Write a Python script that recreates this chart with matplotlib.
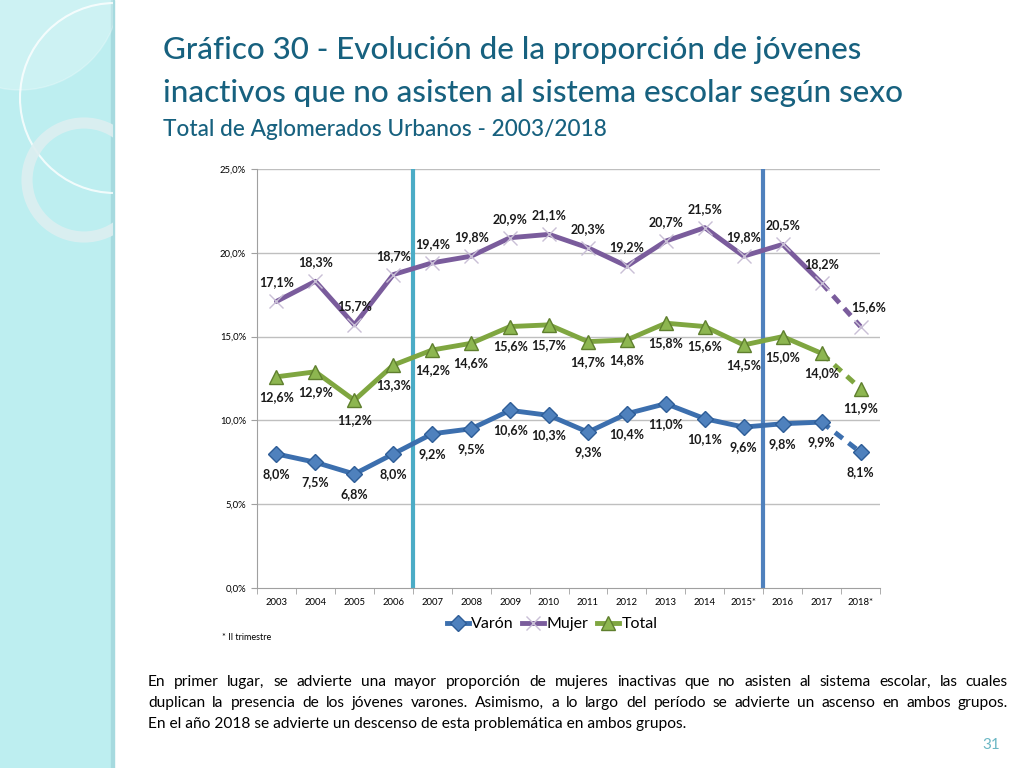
import matplotlib
matplotlib.use("Agg")
import matplotlib.pyplot as plt
import numpy as np
from matplotlib.patches import Rectangle, Circle
from matplotlib.lines import Line2D

# ---------------------------------------------------------------
# datos del grafico
# ---------------------------------------------------------------
anios = ["2003", "2004", "2005", "2006", "2007", "2008", "2009", "2010",
         "2011", "2012", "2013", "2014", "2015*", "2016", "2017", "2018*"]
varon = [8.0, 7.5, 6.8, 8.0, 9.2, 9.5, 10.6, 10.3, 9.3, 10.4, 11.0, 10.1, 9.6, 9.8, 9.9, 8.1]
mujer = [17.1, 18.3, 15.7, 18.7, 19.4, 19.8, 20.9, 21.1, 20.3, 19.2, 20.7, 21.5, 19.8, 20.5, 18.2, 15.6]
total = [12.6, 12.9, 11.2, 13.3, 14.2, 14.6, 15.6, 15.7, 14.7, 14.8, 15.8, 15.6, 14.5, 15.0, 14.0, 11.9]
y_ticks = [0, 5, 10, 15, 20, 25]

titulo1 = "Gráfico 30 - Evolución de la proporción de jóvenes"
titulo2 = "inactivos que no asisten al sistema escolar según sexo"
subtitulo = "Total de Aglomerados Urbanos - 2003/2018"
texto = ["En primer lugar, se advierte una mayor proporción de mujeres inactivas que no asisten al sistema escolar, las cuales",
         "duplican la presencia de los jóvenes varones.  Asimismo, a lo largo del período se advierte un ascenso en ambos grupos.",
         "En el año 2018 se advierte un descenso de esta problemática en ambos grupos."]

W, H = 1024, 768
fig = plt.figure(figsize=(W / 100, H / 100), dpi=100)
fig.patch.set_facecolor("white")

# panel decorativo de la izquierda
bg = fig.add_axes([0, 0, 1, 1], zorder=-5)
bg.set_xlim(0, W)
bg.set_ylim(H, 0)
bg.axis("off")
bg.add_patch(Rectangle((0, 0), 113, H, color="#BDEEF0", zorder=0))
bg.add_patch(Rectangle((111, 0), 3, H, color="#A6DADF", zorder=1))
clip = Rectangle((0, 0), 113, H, transform=bg.transData)
c1 = Circle((115, 98), 95, fill=False, ec="white", lw=1.5, alpha=0.8, zorder=2)
c2 = Circle((84, 180), 57, fill=False, ec="#DDEEF0", lw=8, alpha=0.9, zorder=2)
c3 = Circle((20, -10), 100, color="white", alpha=0.25, zorder=1)
for c in (c1, c2, c3):
    bg.add_patch(c)
    c.set_clip_path(clip)

col_tit = "#17617F"
fig.text(163 / W, 1 - 50 / H, titulo1, fontsize=22.6, color=col_tit, family="Lato", weight="medium", va="center")
fig.text(163 / W, 1 - 93 / H, titulo2, fontsize=22.6, color=col_tit, family="Lato", weight="medium", va="center")
fig.text(163 / W, 1 - 129 / H, subtitulo, fontsize=16.3, color=col_tit, family="Lato", weight="medium", va="center")

# ---------------------------------------------------------------
# grafico de lineas
# ---------------------------------------------------------------
ax = fig.add_axes([257 / W, 1 - 588 / H, (880 - 257) / W, (588 - 169) / H])
x = np.arange(len(anios))
ax.set_xlim(-0.5, len(anios) - 0.5)
ax.set_ylim(0, 25)

for yv in y_ticks[1:]:
    ax.axhline(yv, color="#BFBFBF", lw=1, zorder=0)

ax.axvline(3.5, color="#4BACC6", lw=3, zorder=1)
ax.axvline(12.5, color="#4F81BD", lw=3, zorder=1)

series = [
    ("Varón", varon, "#3C6FAE", "D", "#4F81BD", "#2E5D97", 8, -20),
    ("Mujer", mujer, "#7A5C9C", "x", "#C9BFD6", "#C9BFD6", 10, 19),
    ("Total", total, "#7FA640", "^", "#8DB650", "#5F7F2E", 10, -20),
]
n = len(anios)
for nombre, vals, col, mk, mfc, mec, ms, dy in series:
    ax.plot(x[:n - 1], vals[:n - 1], color=col, lw=3.5, solid_capstyle="round", zorder=3)
    ax.plot(x[n - 2:], vals[n - 2:], color=col, lw=3.5, ls=(0, (2, 1.5)), zorder=3)
    ax.plot(x, vals, ls="none", marker=mk, ms=ms, mfc=mfc, mec=mec, mew=1, zorder=4)
    for i, v in enumerate(vals):
        dx = 8 if (nombre == "Mujer" and i == n - 1) else 0
        ax.annotate(f"{v:.1f}%".replace(".", ","), (x[i], v), xytext=(dx, dy),
                    textcoords="offset pixels", ha="center", va="center", family="Lato",
                    fontsize=9, fontweight="bold", color="#1A1A1A", zorder=5)

ax.set_yticks(y_ticks)
ax.set_yticklabels([f"{v:.1f}%".replace(".", ",") for v in y_ticks], fontsize=6.8, family="Lato")
ax.set_xticks(x)
ax.set_xticklabels(anios, fontsize=6.8, family="Lato")
ax.set_xticks(np.arange(-0.5, n, 1), minor=True)
ax.tick_params(axis="x", which="major", length=0, pad=7)
ax.tick_params(axis="x", which="minor", length=4, color="#A0A0A0")
ax.tick_params(axis="y", length=4, color="#A0A0A0", pad=4)
for s in ("top", "right"):
    ax.spines[s].set_visible(False)
for s in ("left", "bottom"):
    ax.spines[s].set_color("#A0A0A0")

# leyenda
handles = [Line2D([], [], color=c, lw=3.5, marker=m, ms=ms, mfc=f, mec=e)
           for _, _, c, m, f, e, ms, _ in series]
fig.legend(handles, [s[0] for s in series], loc="center", bbox_to_anchor=(552 / W, 1 - 624 / H),
           ncol=3, frameon=False, prop={"family": "Lato", "size": 11.5}, handlelength=1.4,
           handletextpad=0.15, columnspacing=0.5)
fig.text(222 / W, 1 - 637 / H, "* II trimestre", fontsize=6.5, family="Lato", va="center")

# ---------------------------------------------------------------
# texto inferior (justificado a mano)
# ---------------------------------------------------------------
x0, x1 = 148, 1008
renderer = fig.canvas.get_renderer()
for k, linea in enumerate(texto):
    yy = 1 - (682 + k * 21) / H
    if k == len(texto) - 1:
        fig.text(x0 / W, yy, linea, fontsize=11.2, family="Lato", va="center")
        continue
    palabras = linea.split()
    objs = [fig.text(0, yy, p, fontsize=11.2, family="Lato", va="center") for p in palabras]
    anchos = [o.get_window_extent(renderer).width for o in objs]
    hueco = (x1 - x0 - sum(anchos)) / (len(palabras) - 1)
    pos = x0
    for o, a in zip(objs, anchos):
        o.set_x(pos / W)
        pos += a + hueco

fig.text(1000 / W, 1 - 745 / H, "31", fontsize=11, color="#6BB7C4", ha="right", va="center", family="Lato")

fig.savefig("out.png", dpi=100)
